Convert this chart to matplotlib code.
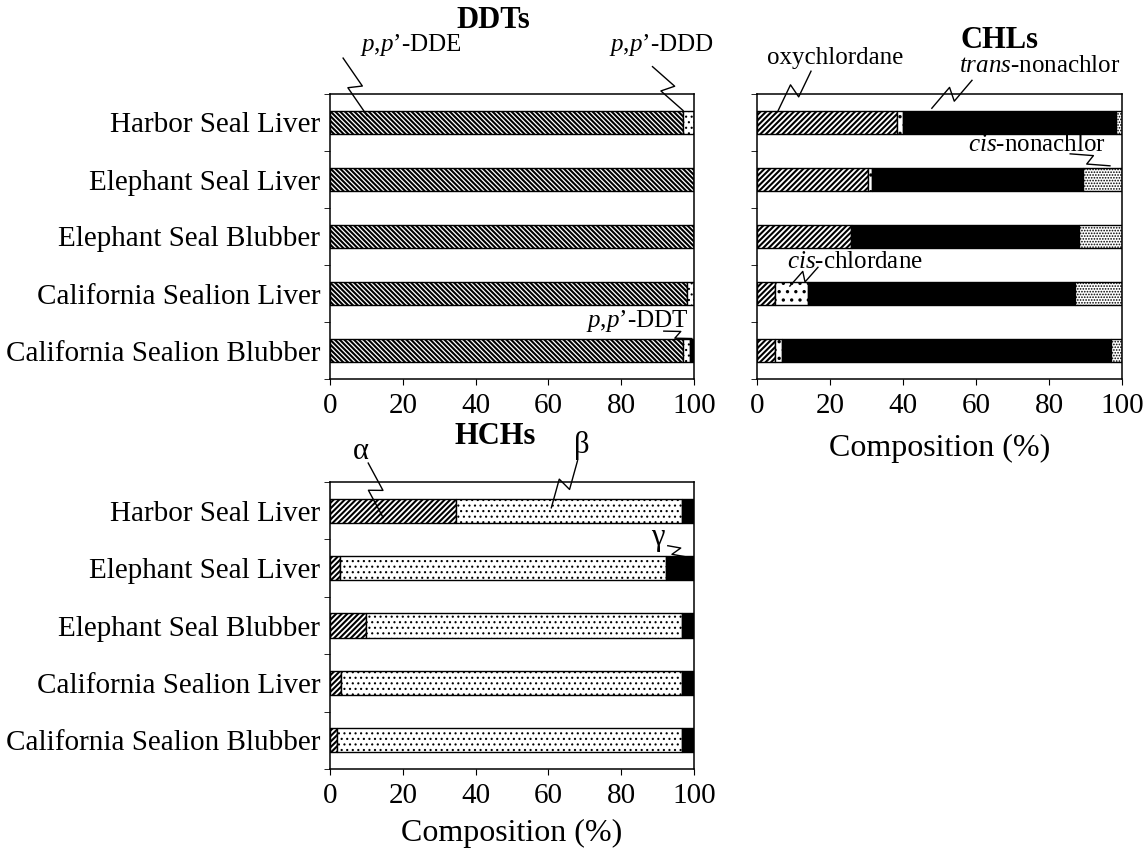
"""Composition of DDTs, CHLs and HCHs in pinniped tissues (stacked % bars)."""

import numpy as np
import matplotlib
matplotlib.use("Agg")
import matplotlib.pyplot as plt

plt.rcParams["font.family"] = ["Liberation Serif", "DejaVu Serif"]
plt.rcParams["mathtext.fontset"] = "custom"
plt.rcParams["mathtext.rm"] = "Liberation Serif"
plt.rcParams["mathtext.it"] = "Liberation Serif:italic"

samples = ["Harbor Seal Liver", "Elephant Seal Liver", "Elephant Seal Blubber",
           "California Sealion Liver", "California Sealion Blubber"]

# DDTs (%)
ddt_dde = [97.0, 100.0, 100.0, 98.0, 97.0]
ddt_ddd = [3.0, 0.0, 0.0, 2.0, 2.0]
ddt_ddt = [0.0, 0.0, 0.0, 0.0, 1.0]

# CHLs (%)
chl_oxy = [38.4, 30.3, 25.8, 4.9, 4.9]
chl_cis_chlordane = [1.6, 1.1, 0.2, 9.1, 2.0]
chl_trans_nonachlor = [58.4, 57.9, 62.2, 73.1, 90.1]
chl_cis_nonachlor = [1.6, 10.7, 11.8, 12.9, 3.0]

# HCHs (%)
hch_alpha = [34.7, 2.7, 9.9, 3.1, 1.9]
hch_beta = [62.0, 89.5, 86.8, 93.6, 94.8]
hch_gamma = [3.3, 7.8, 3.3, 3.3, 3.3]

W, H = 1146, 855
BAR_H = 0.42
FS = 21


def stacked(ax, series, hatches, colors, hatch_lw):
    y = np.arange(len(samples))
    left = np.zeros(len(samples))
    for vals, h, c, hl in zip(series, hatches, colors, hatch_lw):
        vals = np.asarray(vals)
        with plt.rc_context({"hatch.linewidth": hl}):
            bars = ax.barh(y, vals, left=left, height=BAR_H, color=c, hatch=h,
                           edgecolor="black", linewidth=1.0)
        for b in bars:
            if hasattr(b, "set_hatch_linewidth"):
                b.set_hatch_linewidth(hl)
        left += vals
    ax.set_xlim(0, 100)
    ax.set_ylim(len(samples) - 0.5, -0.5)
    ax.set_yticks(y)
    ax.set_yticks(np.arange(len(samples) + 1) - 0.5, minor=True)
    ax.tick_params(axis="y", which="major", length=0, pad=7, labelsize=FS)
    ax.tick_params(axis="y", which="minor", length=4, direction="out")
    ax.tick_params(axis="x", length=4, direction="out", pad=6, labelsize=FS)
    ax.set_xticks([0, 20, 40, 60, 80, 100])
    for s in ax.spines.values():
        s.set_linewidth(1.1)


def zigzag(ax, start, end, w=7.0):
    a = ax.transData.transform(start)
    b = ax.transData.transform(end)
    d = b - a
    L = np.hypot(*d)
    u = d / L
    n = np.array([-u[1], u[0]])
    p1 = a + u * (0.5 * L + 2) + n * w
    p2 = a + u * (0.5 * L - 2) - n * w
    pts = ax.transData.inverted().transform(np.array([a, p1, p2, b]))
    ax.plot(pts[:, 0], pts[:, 1], color="black", lw=1.0, clip_on=False)


def note(ax, text, xy_text, start, end, w=7.0, fs=18):
    ax.text(*xy_text, text, fontsize=fs, ha="center", va="center", clip_on=False)
    zigzag(ax, start, end, w)


fig = plt.figure(figsize=(W / 100, H / 100), dpi=100)

ax_ddt = fig.add_axes([330 / W, 1 - 379 / H, 364 / W, 285 / H])
ax_chl = fig.add_axes([757 / W, 1 - 379 / H, 365 / W, 285 / H])
ax_hch = fig.add_axes([330 / W, 1 - 769 / H, 364 / W, 287 / H])

stacked(ax_ddt, [ddt_dde, ddt_ddd, ddt_ddt],
        ["\\" * 7, "...", None], ["white", "white", "black"], [1.5, 0.8, 1.0])
ax_ddt.set_yticklabels(samples)

stacked(ax_chl, [chl_oxy, chl_cis_chlordane, chl_trans_nonachlor, chl_cis_nonachlor],
        ["/" * 6, "..", None, "......"], ["white", "white", "black", "white"],
        [1.5, 1.2, 1.0, 0.8])
ax_chl.set_yticklabels([])

stacked(ax_hch, [hch_alpha, hch_beta, hch_gamma],
        ["/" * 6, "...", None], ["white", "white", "black"], [1.5, 0.8, 1.0])
ax_hch.set_yticklabels(samples)

# titles and axis labels
fig.text(493 / W, 1 - 20 / H, "DDTs", fontsize=22, fontweight="bold", ha="center", va="center")
fig.text(1000 / W, 1 - 40 / H, "CHLs", fontsize=22, fontweight="bold", ha="center", va="center")
fig.text(495 / W, 1 - 437 / H, "HCHs", fontsize=22, fontweight="bold", ha="center", va="center")
fig.text(940 / W, 1 - 448 / H, "Composition (%)", fontsize=23, ha="center", va="center")
fig.text(512 / W, 1 - 833 / H, "Composition (%)", fontsize=23, ha="center", va="center")

# DDT labels
note(ax_ddt, r"$\mathit{p{,}p}$’-DDE", (22.2, -1.36), (3.6, -1.13), (10.2, -0.12))
note(ax_ddt, r"$\mathit{p{,}p}$’-DDD", (90.9, -1.36), (88.6, -0.98), (97.0, -0.21))
note(ax_ddt, r"$\mathit{p{,}p}$’-DDT", (84.5, 3.49), (91.7, 3.66), (99.4, 3.79), w=4)

# CHL labels
note(ax_chl, "oxychlordane", (21.4, -1.13), (14.8, -0.90), (5.8, -0.21))
note(ax_chl, r"$\mathit{trans}$-nonachlor", (77.5, -1.0), (58.9, -0.74), (47.9, -0.25))
note(ax_chl, r"$\mathit{cis}$-nonachlor", (76.7, 0.40), (85.8, 0.55), (96.7, 0.76), w=5)
note(ax_chl, r"$\mathit{cis}$-chlordane", (26.8, 2.45), (16.7, 2.54), (9.0, 2.87), w=5)

# HCH labels
note(ax_hch, "α", (8.6, -1.04), (10.5, -0.83), (14.6, 0.12), fs=22)
note(ax_hch, "β", (69.3, -1.13), (68.0, -0.87), (60.8, -0.05), fs=22)
note(ax_hch, "γ", (90.1, 0.47), (92.8, 0.61), (97.5, 0.80), w=5, fs=22)

fig.savefig("out.png", dpi=100)
